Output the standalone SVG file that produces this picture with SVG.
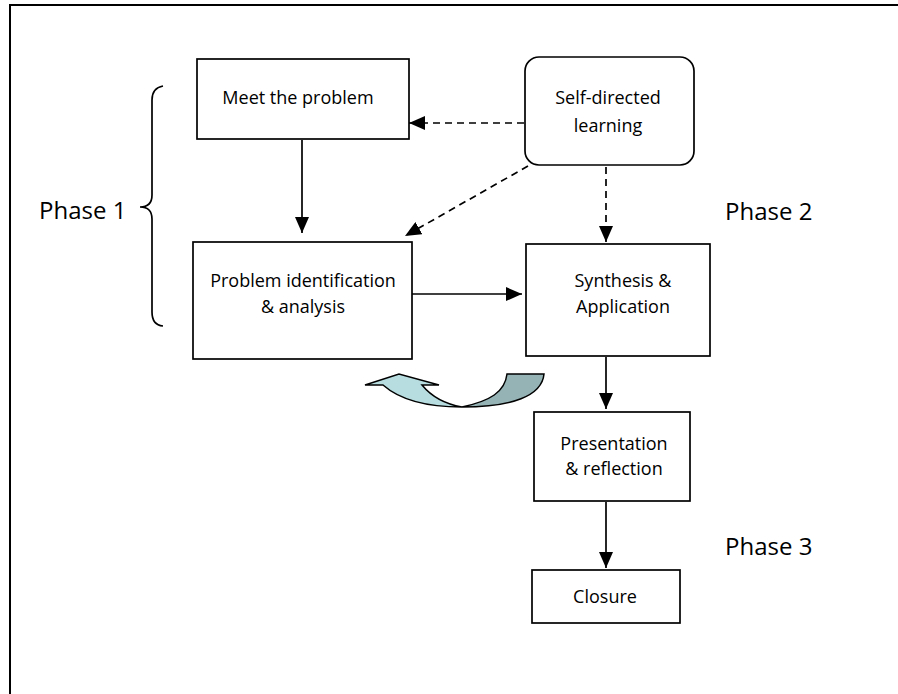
<svg xmlns="http://www.w3.org/2000/svg" width="898" height="694" viewBox="0 0 898 694">
<style>
.box{fill:#fff;stroke:#000;stroke-width:1.7}
.t{font-family:"Open Sans","Liberation Sans",sans-serif;font-size:18px;fill:#000;text-anchor:middle}
.ph{font-family:"Open Sans","Liberation Sans",sans-serif;font-size:24px;fill:#000}
.c{fill:none;stroke:#000;stroke-width:1.7}
.d{stroke-dasharray:7 5}
</style>
<defs>
<marker id="ah" markerUnits="userSpaceOnUse" markerWidth="17" markerHeight="14" refX="16" refY="7" orient="auto">
<path d="M0,0 L16,7 L0,14 Z" fill="#000"/>
</marker>
</defs>
<rect x="10" y="5" width="900" height="700" fill="#fff" stroke="#000" stroke-width="2"/>

<g id="connectors">
<line class="c" x1="302" y1="140" x2="302" y2="233" marker-end="url(#ah)"/>
<line class="c d" x1="524" y1="123" x2="409" y2="123" marker-end="url(#ah)"/>
<line class="c d" x1="528" y1="166" x2="405" y2="236" marker-end="url(#ah)"/>
<line class="c d" x1="606" y1="167" x2="606" y2="242" marker-end="url(#ah)"/>
<line class="c" x1="412" y1="294" x2="522" y2="294" marker-end="url(#ah)"/>
<line class="c" x1="606" y1="357" x2="606" y2="409" marker-end="url(#ah)"/>
<line class="c" x1="606" y1="502" x2="606" y2="568" marker-end="url(#ah)"/>
</g>

<g id="brace">
<path class="c" d="M163,86 Q152,88 152,100 L152,195 Q152,207 140,207 Q152,207 152,219 L152,312 Q152,325 163,326"/>
</g>

<g id="uturn">
<path d="M507,374 L544,374 C542,396 512,407 462,407 C490,401 505,392 507,374 Z" fill="#95B3B5" stroke="#000" stroke-width="1.5"/>
<path d="M365,385 L399,374 L439,385 L422,385 C431,396 445,404 462,407 C428,407 400,400 383,385 Z" fill="#B7DDE0" stroke="#000" stroke-width="1.5"/>
</g>

<g id="meet">
<rect class="box" x="197" y="59" width="212" height="80"/>
<text class="t" x="298" y="104">Meet the problem</text>
</g>
<g id="selfdirected">
<rect class="box" x="525" y="57" width="169" height="108" rx="14"/>
<text class="t" x="608" y="104">Self-directed</text>
<text class="t" x="608" y="132">learning</text>
</g>
<g id="problem">
<rect class="box" x="193" y="242" width="219" height="117"/>
<text class="t" x="303" y="287">Problem identification</text>
<text class="t" x="303" y="313">&amp; analysis</text>
</g>
<g id="synthesis">
<rect class="box" x="526" y="244" width="184" height="112"/>
<text class="t" x="623" y="287">Synthesis &amp;</text>
<text class="t" x="623" y="313">Application</text>
</g>
<g id="presentation">
<rect class="box" x="534" y="412" width="156" height="89"/>
<text class="t" x="614" y="450">Presentation</text>
<text class="t" x="614" y="475">&amp; reflection</text>
</g>
<g id="closure">
<rect class="box" x="532" y="570" width="148" height="53"/>
<text class="t" x="605" y="603">Closure</text>
</g>

<g id="phases">
<text class="ph" x="39" y="219">Phase 1</text>
<text class="ph" x="725" y="220">Phase 2</text>
<text class="ph" x="725" y="555">Phase 3</text>
</g>
</svg>
